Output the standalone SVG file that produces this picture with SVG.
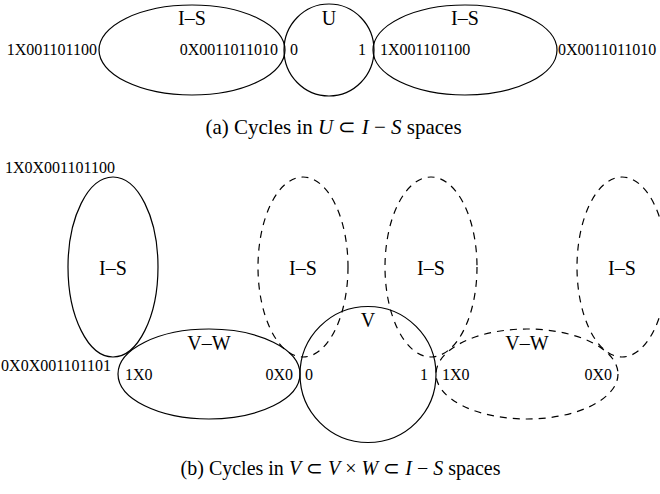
<svg xmlns="http://www.w3.org/2000/svg" width="660" height="494" viewBox="0 0 660 494">
<style>
text{font-family:"Liberation Serif","Times New Roman",serif;fill:#000}
.lb{font-size:16px}
.nm{font-size:20px;text-anchor:middle}
.cap{font-size:20px;text-anchor:middle}
.it{font-style:italic}
.s{fill:none;stroke:#000;stroke-width:1.2}
.d{fill:none;stroke:#000;stroke-width:1.2;stroke-dasharray:7,6}
</style>
<rect width="660" height="494" fill="#fff"/>
<g id="a-is-left"><ellipse class="s" cx="192" cy="50" rx="93" ry="45"/><text class="nm" x="192" y="25">I–S</text></g>
<g id="a-u"><ellipse class="s" cx="329" cy="50" rx="45" ry="46"/><text class="nm" x="329" y="25">U</text></g>
<g id="a-is-right"><ellipse class="s" cx="465" cy="50" rx="92" ry="45"/><text class="nm" x="465" y="25">I–S</text></g>
<g id="a-labels">
<text class="lb" x="97" y="55" text-anchor="end">1X001101100</text>
<text class="lb" x="278" y="55" text-anchor="end">0X0011011010</text>
<text class="lb" x="290" y="55">0</text>
<text class="lb" x="366" y="55" text-anchor="end">1</text>
<text class="lb" x="380" y="55">1X001101100</text>
<text class="lb" x="558" y="55">0X0011011010</text>
</g>
<text class="cap" x="333.5" y="134" style="font-size:21px">(a) Cycles in <tspan class="it">U</tspan> ⊂ <tspan class="it">I</tspan> − <tspan class="it">S</tspan> spaces</text>

<g id="b-is1"><ellipse class="s" cx="113" cy="267" rx="45" ry="90"/><text class="nm" x="113" y="275">I–S</text></g>
<g id="b-is2"><ellipse class="d" cx="303" cy="267" rx="45" ry="90"/><text class="nm" x="303" y="275">I–S</text></g>
<g id="b-is3"><ellipse class="d" cx="431" cy="267" rx="46" ry="90"/><text class="nm" x="431" y="275">I–S</text></g>
<g id="b-is4"><ellipse class="d" cx="622" cy="267" rx="45" ry="90"/><text class="nm" x="622" y="275">I–S</text></g>
<g id="b-vw1"><ellipse class="s" cx="209" cy="374" rx="91" ry="45"/><text class="nm" x="209" y="350">V–W</text></g>
<g id="b-v"><circle class="s" cx="368" cy="374.5" r="68"/><text class="nm" x="368" y="327">V</text></g>
<g id="b-vw2"><ellipse class="d" cx="527" cy="374" rx="91" ry="45"/><text class="nm" x="527" y="350">V–W</text></g>
<g id="b-labels">
<text class="lb" x="5" y="173">1X0X001101100</text>
<text class="lb" x="111" y="371" text-anchor="end">0X0X001101101</text>
<text class="lb" x="125" y="380">1X0</text>
<text class="lb" x="293" y="380" text-anchor="end">0X0</text>
<text class="lb" x="305" y="380">0</text>
<text class="lb" x="428" y="380" text-anchor="end">1</text>
<text class="lb" x="442" y="380">1X0</text>
<text class="lb" x="612" y="380" text-anchor="end">0X0</text>
</g>
<text class="cap" x="340.5" y="475">(b) Cycles in <tspan class="it">V</tspan> ⊂ <tspan class="it">V</tspan> × <tspan class="it">W</tspan> ⊂ <tspan class="it">I</tspan> − <tspan class="it">S</tspan> spaces</text>
</svg>
